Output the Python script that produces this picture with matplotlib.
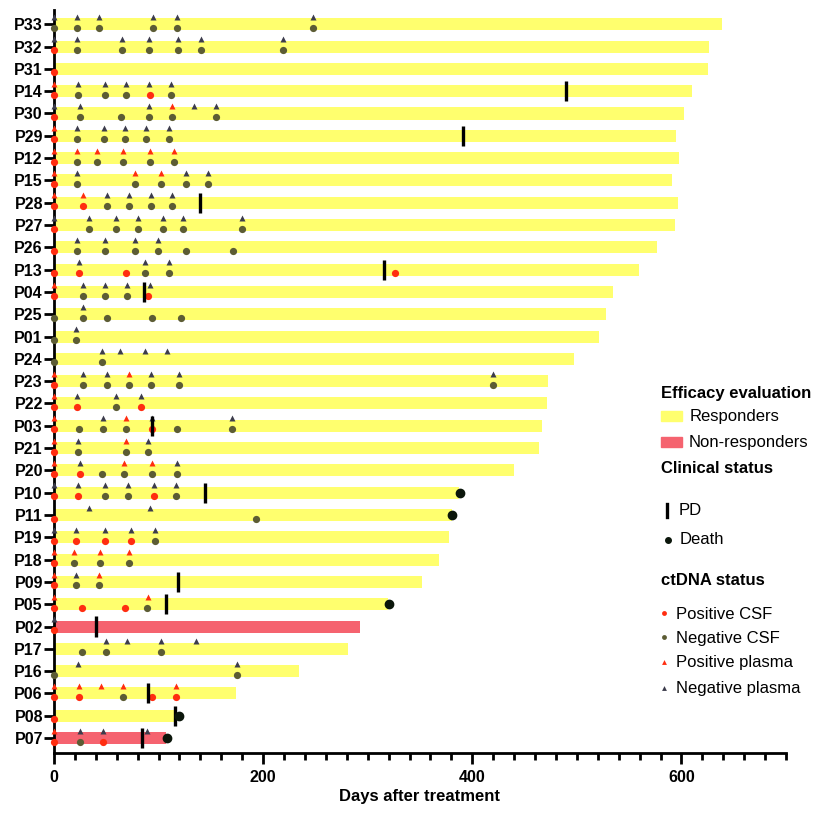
import matplotlib
matplotlib.use("Agg")
import matplotlib.pyplot as plt
from matplotlib.lines import Line2D
from matplotlib.patches import Rectangle

plt.rcParams['font.family'] = ['Liberation Sans', 'DejaVu Sans']

patients = ["P33","P32","P31","P14","P30","P29","P12","P15","P28","P27","P26","P13","P04","P25","P01","P24",
            "P23","P22","P03","P21","P20","P10","P11","P19","P18","P09","P05","P02","P17","P16","P06","P08","P07"]
durations = [639,626,625,610,602,595,598,591,597,594,577,559,535,528,521,497,
             472,471,467,464,440,387,381,378,368,352,319,293,281,234,174,117,107]
non_responders = ["P02", "P07"]

pd_patients = ["P14","P29","P28","P13","P04","P03","P10","P09","P05","P02","P06","P08","P07"]
pd_days =     [490,  391,  140,  316,  86,   94,   144,  119,  107,  40,   90,   116,  84]

death_patients = ["P10","P11","P05","P08","P07"]
death_days =     [388,  381,  320,  120,  108]

pos_csf = [[], [0], [0], [0, 92], [0], [0], [0], [0], [0, 28], [0], [0], [0, 24, 69, 326], [0, 90], [], [], [],
           [0], [0, 22, 83], [0, 94], [0], [0, 25], [0, 23, 96], [0], [0, 21, 49, 74], [0], [0], [0, 27, 68],
           [0], [], [], [0, 24, 94, 117], [0], [0, 47]]
neg_csf = [[0, 22, 43, 95, 118, 248], [22, 65, 91, 119, 141, 219], [], [23, 49, 69, 112],
           [25, 64, 91, 113, 155], [22, 48, 68, 88, 110], [22, 41, 66, 92, 115], [22, 77, 102, 126, 147],
           [51, 72, 93, 113], [33, 59, 80, 104, 123, 180], [22, 49, 77, 99, 126, 171], [87, 110],
           [28, 49, 70], [0, 28, 51, 94, 121], [0, 21], [0, 46],
           [28, 51, 72, 93, 120, 420], [59], [24, 47, 69, 118, 170], [23, 69, 90], [46, 67, 94, 118],
           [49, 71, 117], [193], [97], [19, 44, 72], [21, 43], [89], [], [27, 50, 102], [0, 175],
           [66], [], [25]]
pos_plasma = [[], [], [], [0], [113], [0], [0, 22, 41, 66, 92, 115], [0, 77, 102], [0, 28], [], [], [],
              [0], [], [], [], [0, 72], [0], [0, 69], [0, 69], [0, 67, 94], [], [], [], [0, 19, 44, 72],
              [0, 43], [0, 90], [], [], [], [0, 24, 45, 66, 117], [], [0]]
neg_plasma = [[0, 22, 43, 95, 118, 248], [0, 22, 65, 91, 119, 141, 219], [], [23, 49, 69, 91, 112],
              [0, 25, 91, 134, 155], [22, 48, 68, 88, 110], [], [22, 126, 147], [51, 72, 93, 113],
              [0, 33, 59, 80, 104, 123, 180], [22, 49, 77, 99], [24, 87, 110], [28, 49, 70, 92], [28],
              [21], [46, 63, 87, 108], [28, 51, 93, 120, 420], [22, 59, 83], [47, 94, 170], [23, 90],
              [25, 118], [0, 23, 49, 71, 96, 117], [33, 92], [0, 21, 49, 74, 97], [], [21], [], [0],
              [50, 70, 102, 136], [23, 175], [], [], [25, 47, 89]]

YELLOW = "#FFFF6E"
PINK = "#F5636F"
RED = "#FF2D10"
OLIVE = "#5C5C34"
GREY = "#3C3C4C"
BLACK = "#000000"

W, H = 817, 813
fig = plt.figure(figsize=(W / 100, H / 100), dpi=100)
ax = fig.add_axes([54 / W, 1 - 753 / H, 732 / W, 743 / H])

n = len(patients)
ys = [n - 1 - i for i in range(n)]
colors = [PINK if p in non_responders else YELLOW for p in patients]
ax.barh(ys, durations, height=0.54, color=colors, zorder=1)

CIRC_OFF = -0.16
TRI_OFF = 0.33
for i, y in enumerate(ys):
    if neg_csf[i]:
        ax.plot(neg_csf[i], [y + CIRC_OFF] * len(neg_csf[i]), 'o', color=OLIVE, ms=5.2, mec='none',
                zorder=5, clip_on=False)
    if pos_csf[i]:
        ax.plot(pos_csf[i], [y + CIRC_OFF] * len(pos_csf[i]), 'o', color=RED, ms=5.2, mec='none',
                zorder=6, clip_on=False)
    if neg_plasma[i]:
        ax.plot(neg_plasma[i], [y + TRI_OFF] * len(neg_plasma[i]), '^', color=GREY, ms=4.8, mec='none',
                zorder=5, clip_on=False)
    if pos_plasma[i]:
        ax.plot(pos_plasma[i], [y + TRI_OFF] * len(pos_plasma[i]), '^', color=RED, ms=4.8, mec='none',
                zorder=6, clip_on=False)

for p, d in zip(pd_patients, pd_days):
    y = ys[patients.index(p)]
    ax.plot([d, d], [y - 0.45, y + 0.45], color=BLACK, lw=2.4, solid_capstyle='butt', zorder=7)

for p, d in zip(death_patients, death_days):
    y = ys[patients.index(p)]
    ax.plot([d], [y], 'o', color="#0B160B", ms=6, zorder=8, clip_on=False)

ax.set_xlim(0, 700)
ax.set_ylim(-0.67, n - 1 + 0.64)
ax.set_yticks(ys)
ax.set_yticklabels(patients, fontsize=11.5, fontweight='bold')
ax.set_xticks([0, 200, 400, 600])
ax.set_xticks(range(0, 701, 20), minor=True)
ax.set_xticklabels(["0", "200", "400", "600"], fontsize=11.5, fontweight='bold')
ax.tick_params(axis='y', length=7, width=2, pad=1)
ax.tick_params(axis='x', which='major', length=8, width=2, pad=4)
ax.tick_params(axis='x', which='minor', length=5, width=2)
for s in ['top', 'right']:
    ax.spines[s].set_visible(False)
for s in ['left', 'bottom']:
    ax.spines[s].set_linewidth(2)
    ax.spines[s].set_zorder(4)
ax.set_xlabel("Days after treatment", fontsize=12, fontweight='bold', labelpad=3)

# Legend (figure coordinates from pixel positions)
def fx(x):
    return x / W

def fy(y):
    return 1 - y / H

fs = 12
fig.text(fx(661), fy(393), "Efficacy evaluation", fontsize=fs, fontweight='bold', va='center')
fig.patches.append(Rectangle((fx(661), fy(421)), 21 / W, 10 / H, color=YELLOW, transform=fig.transFigure))
fig.text(fx(690), fy(416), "Responders", fontsize=fs, va='center')
fig.patches.append(Rectangle((fx(661), fy(447)), 21 / W, 10 / H, color=PINK, transform=fig.transFigure))
fig.text(fx(689), fy(442), "Non-responders", fontsize=fs, va='center')
fig.text(fx(661), fy(468), "Clinical status", fontsize=fs, fontweight='bold', va='center')
fig.add_artist(Line2D([fx(667), fx(667)], [fy(504), fy(517)], color=BLACK, lw=2.4, transform=fig.transFigure))
fig.text(fx(679), fy(510), "PD", fontsize=fs, va='center')
fig.add_artist(Line2D([fx(668)], [fy(540)], marker='o', color="#0B160B", ms=4, transform=fig.transFigure))
fig.text(fx(680), fy(540), "Death", fontsize=fs, va='center')
fig.text(fx(661), fy(580), "ctDNA status", fontsize=fs, fontweight='bold', va='center')
leg_items = [("Positive CSF", 'o', RED, 614), ("Negative CSF", 'o', OLIVE, 638),
             ("Positive plasma", '^', RED, 663), ("Negative plasma", '^', GREY, 689)]
for label, mk, col, yy in leg_items:
    fig.add_artist(Line2D([fx(664)], [fy(yy - 1)], marker=mk, color=col, ms=3.5, mec='none',
                          transform=fig.transFigure))
    fig.text(fx(676), fy(yy), label, fontsize=fs, va='center')

fig.savefig("out.png", dpi=100)
